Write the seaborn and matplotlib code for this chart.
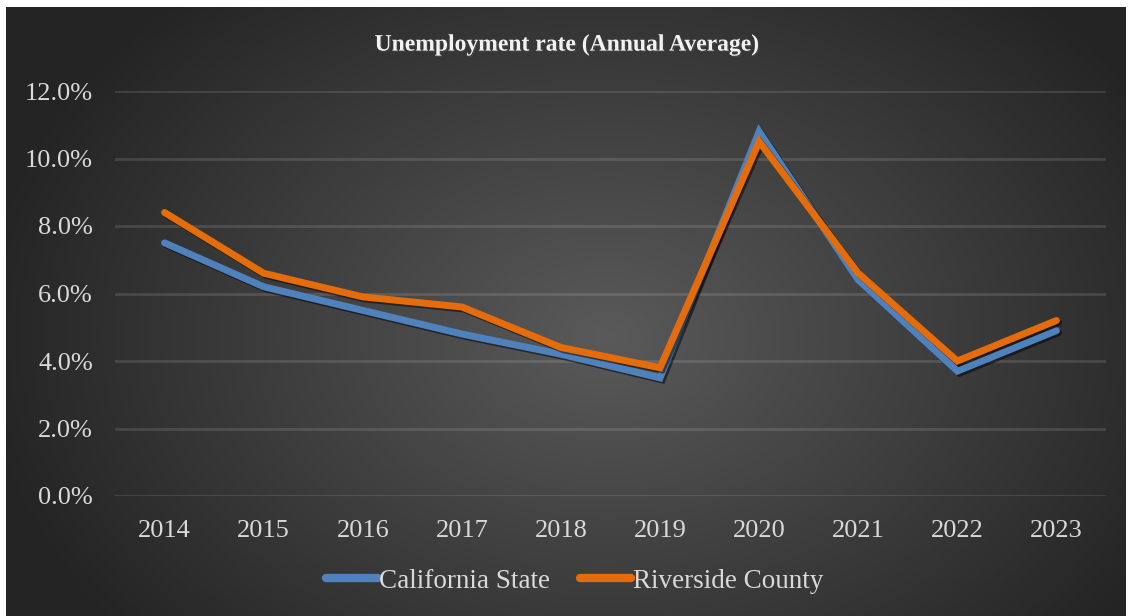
import numpy as np
import pandas as pd
import seaborn as sns
import matplotlib.pyplot as plt
import matplotlib.patheffects as pe
from matplotlib.ticker import PercentFormatter

# Data
years = ["2014", "2015", "2016", "2017", "2018", "2019", "2020", "2021", "2022", "2023"]
california = [7.5, 6.2, 5.5, 4.8, 4.2, 3.5, 10.8, 6.4, 3.7, 4.9]
riverside = [8.4, 6.6, 5.9, 5.6, 4.4, 3.8, 10.5, 6.6, 4.0, 5.2]
series_names = ["California State", "Riverside County"]
colors = ["#4F81BD", "#E46C0A"]

df = pd.DataFrame({
    "year": years * 2,
    "rate": california + riverside,
    "series": [series_names[0]] * len(years) + [series_names[1]] * len(years),
})

sns.set_theme(style="white")
plt.rcParams["font.family"] = ["Liberation Serif", "DejaVu Serif"]

fig = plt.figure(figsize=(11.28, 6.16), dpi=100, facecolor="white")

# dark radial gradient background (leaves thin white margin top/left/right)
bg = fig.add_axes([6 / 1128, 0, 1120 / 1128, 609 / 616])
bg.set_axis_off()
h, w = 609, 1120
yy, xx = np.mgrid[0:h, 0:w]
r = np.sqrt(((xx - 600) / 680) ** 2 + ((yy - 330) / 500) ** 2)
shade = np.clip(90 - 58 * r, 36, 92) / 255
bg.imshow(np.dstack([shade] * 3), aspect="auto", interpolation="bilinear")

ax = fig.add_axes([115 / 1128, 1 - 496 / 616, (1106 - 115) / 1128, (496 - 91) / 616])
ax.patch.set_alpha(0)

sns.lineplot(data=df, x="year", y="rate", hue="series", palette=colors,
             linewidth=5, ax=ax, sort=False, legend=True)
for line in ax.lines:
    line.set_solid_capstyle("round")
    line.set_solid_joinstyle("miter")
    line.set_path_effects([pe.SimpleLineShadow(offset=(1.5, -1.5), alpha=0.5, shadow_color="black"),
                           pe.Normal()])

ax.set_ylim(0, 12)
ax.set_xlim(-0.5, len(years) - 0.5)
ax.set_yticks(np.arange(0, 12.1, 2))
ax.yaxis.set_major_formatter(PercentFormatter(decimals=1))
ax.grid(axis="y", color="white", linewidth=2, alpha=0.12)
ax.set_axisbelow(True)
for s in ax.spines.values():
    s.set_visible(False)
ax.tick_params(axis="both", length=0, labelsize=19, labelcolor="#D9D9D9")
ax.tick_params(axis="x", pad=17)
ax.tick_params(axis="y", pad=16)
ax.set_xlabel("")
ax.set_ylabel("")

leg = ax.legend(loc="center", bbox_to_anchor=(0.464, -0.21), ncol=2, frameon=False,
                fontsize=19.5, handlelength=1.9, handletextpad=0.05, columnspacing=1.1)
for t in leg.get_texts():
    t.set_color("#D9D9D9")
for hl in leg.get_lines():
    hl.set_linewidth(6)
    hl.set_solid_capstyle("round")
    hl.set_path_effects([])

fig.text(0.503, 1 - 45 / 616, "Unemployment rate (Annual Average)", ha="center", va="center",
         fontsize=17, fontweight="bold", color="#F2F2F2",
         path_effects=[pe.withSimplePatchShadow(offset=(1, -1), alpha=0.6)])

fig.savefig("out.png", dpi=100, facecolor="white")
